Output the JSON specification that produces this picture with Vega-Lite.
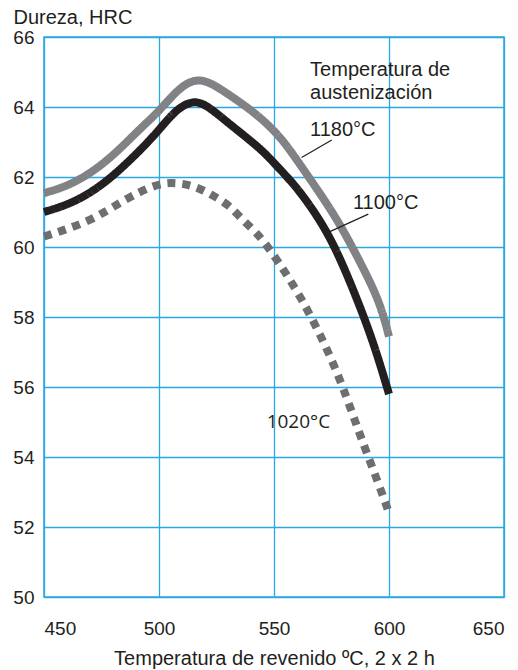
{
  "$schema": "https://vega.github.io/schema/vega-lite/v6.json",
  "autosize": {"type": "none"},
  "padding": {"left": 44, "top": 37, "right": 14, "bottom": 73},
  "width": 460,
  "height": 560,
  "background": "white",
  "config": {
    "view": {"stroke": "#29a9e1", "strokeWidth": 1.5},
    "font": "Liberation Sans",
    "axis": {
      "grid": true, "gridColor": "#29a9e1", "gridWidth": 1.3, "gridOpacity": 1,
      "domain": false, "ticks": false,
      "labelFont": "Liberation Sans", "labelColor": "#231f20",
      "titleFont": "Liberation Sans", "titleColor": "#231f20", "titleFontWeight": "normal"
    }
  },
  "datasets": {
    "curves": [
      {"serie": "1180", "t": 450, "h": 61.54},
      {"serie": "1180", "t": 462, "h": 61.77},
      {"serie": "1180", "t": 477, "h": 62.4},
      {"serie": "1180", "t": 492, "h": 63.4},
      {"serie": "1180", "t": 500, "h": 63.87},
      {"serie": "1180", "t": 509, "h": 64.58},
      {"serie": "1180", "t": 518, "h": 64.88},
      {"serie": "1180", "t": 529, "h": 64.42},
      {"serie": "1180", "t": 542, "h": 63.83},
      {"serie": "1180", "t": 553, "h": 63.15},
      {"serie": "1180", "t": 562, "h": 62.29},
      {"serie": "1180", "t": 577, "h": 60.87},
      {"serie": "1180", "t": 587, "h": 59.63},
      {"serie": "1180", "t": 596, "h": 58.45},
      {"serie": "1180", "t": 600, "h": 57.44},
      {"serie": "1100", "t": 450, "h": 61.0},
      {"serie": "1100", "t": 463, "h": 61.26},
      {"serie": "1100", "t": 477, "h": 61.83},
      {"serie": "1100", "t": 492, "h": 62.77},
      {"serie": "1100", "t": 500, "h": 63.34},
      {"serie": "1100", "t": 507, "h": 63.9},
      {"serie": "1100", "t": 514, "h": 64.18},
      {"serie": "1100", "t": 520, "h": 64.1},
      {"serie": "1100", "t": 529, "h": 63.6},
      {"serie": "1100", "t": 542.5, "h": 62.9},
      {"serie": "1100", "t": 548, "h": 62.55},
      {"serie": "1100", "t": 556, "h": 61.98},
      {"serie": "1100", "t": 562, "h": 61.53},
      {"serie": "1100", "t": 574, "h": 60.39},
      {"serie": "1100", "t": 584, "h": 58.87},
      {"serie": "1100", "t": 593, "h": 57.34},
      {"serie": "1100", "t": 600, "h": 55.8},
      {"serie": "1020", "t": 450, "h": 60.3},
      {"serie": "1020", "t": 470, "h": 60.72},
      {"serie": "1020", "t": 484.5, "h": 61.34},
      {"serie": "1020", "t": 498.5, "h": 61.8},
      {"serie": "1020", "t": 507, "h": 61.85},
      {"serie": "1020", "t": 515.7, "h": 61.74},
      {"serie": "1020", "t": 523, "h": 61.49},
      {"serie": "1020", "t": 530.4, "h": 61.2},
      {"serie": "1020", "t": 535.5, "h": 60.83},
      {"serie": "1020", "t": 542.5, "h": 60.4},
      {"serie": "1020", "t": 548, "h": 59.96},
      {"serie": "1020", "t": 562, "h": 58.58},
      {"serie": "1020", "t": 577, "h": 56.58},
      {"serie": "1020", "t": 587, "h": 54.68},
      {"serie": "1020", "t": 596, "h": 53.15},
      {"serie": "1020", "t": 600, "h": 52.4}
    ],
    "labels": [
      {"t": 565.7, "h": 65.06, "text": "Temperatura de", "f": "a"},
      {"t": 565.7, "h": 64.4, "text": "austenización", "f": "a"},
      {"t": 565.7, "h": 63.34, "text": "1180°C", "f": "a"},
      {"t": 584.3, "h": 61.26, "text": "1100°C", "f": "a"}
    ],
    "labels2": [
      {"t": 546.8, "h": 55.01, "text": "1020°C"}
    ],
    "leaders": [
      {"id": "a", "t": 575.1, "h": 63.06},
      {"id": "a", "t": 562.0, "h": 62.56},
      {"id": "b", "t": 591.0, "h": 60.94},
      {"id": "b", "t": 574.3, "h": 60.44}
    ]
  },
  "layer": [
    {
      "data": {"name": "curves"},
      "mark": {"type": "line", "strokeWidth": 8, "strokeCap": "butt", "interpolate": "basis"},
      "encoding": {
        "x": {"field": "t", "type": "quantitative",
              "scale": {"domain": [450, 650], "nice": false, "zero": false},
              "axis": {"values": [450, 500, 550, 600, 650], "labelFontSize": 19, "labelPadding": 22,
                       "title": "Temperatura de revenido ºC, 2 x 2 h", "titleFontSize": 20, "titlePadding": 10}},
        "y": {"field": "h", "type": "quantitative",
              "scale": {"domain": [50, 66], "nice": false, "zero": false},
              "axis": {"values": [50, 52, 54, 56, 58, 60, 62, 64, 66], "labelFontSize": 19, "labelPadding": 10,
                       "title": "Dureza, HRC", "titleFontSize": 20, "titleAngle": 0, "titleAlign": "left",
                       "titleBaseline": "middle", "titleX": -31, "titleY": -20}},
        "color": {"field": "serie", "type": "nominal", "legend": null,
                  "scale": {"domain": ["1180", "1100", "1020"], "range": ["#808285", "#231f20", "#6d6e71"]}},
        "strokeDash": {"field": "serie", "type": "nominal", "legend": null,
                       "scale": {"domain": ["1180", "1100", "1020"], "range": [[1, 0], [1, 0], [8, 7]]}},
        "detail": {"field": "serie"}
      }
    },
    {
      "data": {"name": "leaders"},
      "mark": {"type": "line", "color": "#231f20", "strokeWidth": 1.2},
      "encoding": {
        "x": {"field": "t", "type": "quantitative"},
        "y": {"field": "h", "type": "quantitative"},
        "detail": {"field": "id"}
      }
    },
    {
      "data": {"name": "labels"},
      "mark": {"type": "text", "align": "left", "baseline": "middle", "fontSize": 20, "color": "#231f20", "font": "Liberation Sans"},
      "encoding": {
        "x": {"field": "t", "type": "quantitative"},
        "y": {"field": "h", "type": "quantitative"},
        "text": {"field": "text"}
      }
    },
    {
      "data": {"name": "labels2"},
      "mark": {"type": "text", "align": "left", "baseline": "middle", "fontSize": 19, "color": "#231f20", "font": "Open Sans"},
      "encoding": {
        "x": {"field": "t", "type": "quantitative"},
        "y": {"field": "h", "type": "quantitative"},
        "text": {"field": "text"}
      }
    }
  ]
}
